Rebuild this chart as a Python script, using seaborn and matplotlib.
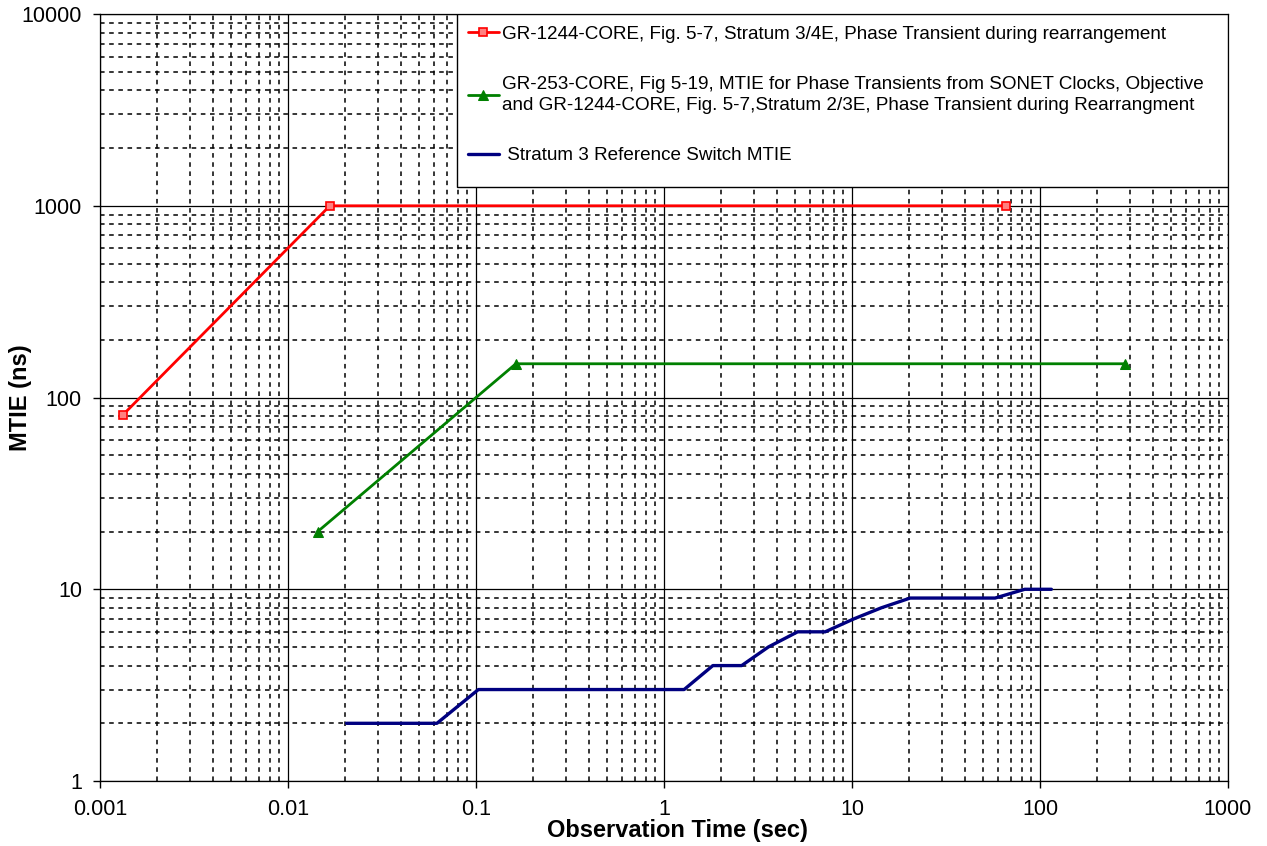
import numpy as np
import pandas as pd
import matplotlib
matplotlib.use("Agg")
import matplotlib.pyplot as plt
import matplotlib.ticker as mticker
from matplotlib.patches import Rectangle
import seaborn as sns

# Stratum 3/4E phase transient mask (GR-1244-CORE)
red_t = [0.00133, 0.0167, 66.0]
red_mtie = [81.5, 1000, 1000]

# GR-253-CORE / Stratum 2/3E mask
green_t = [0.0144, 0.163, 285.0]
green_mtie = [20, 150, 150]

# measured reference switch MTIE
blue_t = [0.0205, 0.062, 0.103, 1.28, 1.82, 2.59, 3.59, 5.14, 7.2, 10.2,
          14.3, 20.4, 57.7, 83.0, 115.0]
blue_mtie = [2, 2, 3, 3, 4, 4, 5, 6, 6, 7, 8, 9, 9, 10, 10]

x_ticks = [0.001, 0.01, 0.1, 1, 10, 100, 1000]
y_ticks = [1, 10, 100, 1000, 10000]

labels = [
    "GR-1244-CORE, Fig. 5-7, Stratum 3/4E, Phase Transient during rearrangement",
    "GR-253-CORE, Fig 5-19, MTIE for Phase Transients from SONET Clocks, Objective\n"
    "and GR-1244-CORE, Fig. 5-7,Stratum 2/3E, Phase Transient during Rearrangment",
    " Stratum 3 Reference Switch MTIE",
]

sns.set_style("white")
plt.rcParams['font.family'] = ['Liberation Sans', 'DejaVu Sans']
plt.rcParams['text.color'] = 'black'
plt.rcParams['axes.labelcolor'] = 'black'
plt.rcParams['xtick.color'] = 'black'
plt.rcParams['ytick.color'] = 'black'

fig = plt.figure(figsize=(12.67, 8.46), dpi=100)
ax = fig.add_axes([0.0789, 0.0768, 0.8903, 0.9066])

red_df = pd.DataFrame({"t": red_t, "mtie": red_mtie})
green_df = pd.DataFrame({"t": green_t, "mtie": green_mtie})
blue_df = pd.DataFrame({"t": blue_t, "mtie": blue_mtie})

sns.lineplot(data=red_df, x="t", y="mtie", ax=ax, color="#ff0000", lw=2.0,
             marker="s", markersize=6, markerfacecolor="#ff8080",
             markeredgecolor="#ff0000", markeredgewidth=1.2, label=labels[0])
sns.lineplot(data=green_df, x="t", y="mtie", ax=ax, color="#008000", lw=2.0,
             marker="^", markersize=7, markerfacecolor="#008000",
             markeredgecolor="#008000", label=labels[1])
sns.lineplot(data=blue_df, x="t", y="mtie", ax=ax, color="#000080", lw=2.4,
             label=labels[2])

ax.set_xscale("log")
ax.set_yscale("log")
ax.set_xlim(0.001, 1000)
ax.set_ylim(1, 10000)

ax.set_xticks(x_ticks, ["%g" % v for v in x_ticks])
ax.set_yticks(y_ticks, ["%g" % v for v in y_ticks])
ax.xaxis.set_minor_formatter(mticker.NullFormatter())
ax.yaxis.set_minor_formatter(mticker.NullFormatter())
ax.xaxis.set_minor_locator(mticker.LogLocator(base=10, subs=np.arange(2, 10), numticks=20))
ax.yaxis.set_minor_locator(mticker.LogLocator(base=10, subs=np.arange(2, 10), numticks=20))

ax.grid(True, which="major", color="black", lw=0.9, ls="-")
ax.grid(True, which="minor", color="black", lw=1.1, ls=(0, (3, 3)))
ax.set_axisbelow(True)
ax.tick_params(which="major", direction="out", length=5, width=1, color="black",
               labelsize=15.5, pad=8, bottom=True, left=True)
ax.tick_params(which="minor", length=0)
for s in ax.spines.values():
    s.set_color("black")
    s.set_linewidth(0.9)

ax.set_xlabel("Observation Time (sec)", fontsize=17, fontweight="bold")
ax.set_ylabel("MTIE (ns)", fontsize=17, fontweight="bold")
ax.xaxis.set_label_coords(0.512, -0.05)
ax.yaxis.set_label_coords(-0.0605, 0.5)

# legend box drawn as a plain white rectangle, entries placed on top of it
frame = Rectangle((0.3165, 0.7747), 0.6835, 0.2253, transform=ax.transAxes,
                  facecolor="white", edgecolor="black", lw=1.0, zorder=4)
ax.add_patch(frame)

leg = ax.legend(loc="upper left", bbox_to_anchor=(0.3165, 1.0, 0.6835, 0.0),
                mode="expand", fontsize=13.6, frameon=False,
                borderpad=0.6, labelspacing=1.75, handlelength=1.6,
                handletextpad=0.2, borderaxespad=0.0)
leg.set_zorder(5)
for t in leg.get_texts():
    t.set_linespacing(1.35)

fig.savefig("out.png", dpi=100)
